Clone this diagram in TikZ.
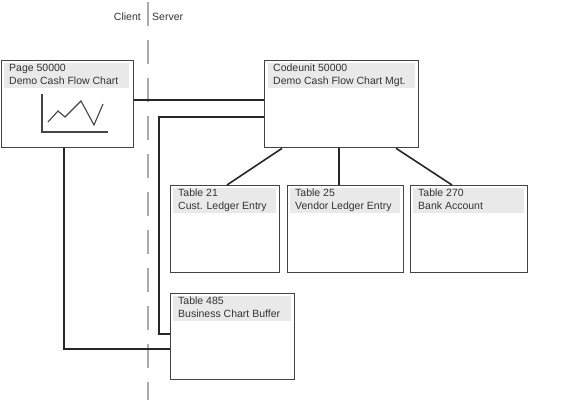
\documentclass[tikz,border=0pt]{standalone}
\usepackage{fontspec}
\setmainfont{Liberation Sans}
\usetikzlibrary{calc}
\definecolor{txt}{HTML}{333333}
\definecolor{hdr}{HTML}{E9E9E9}
\definecolor{bord}{HTML}{444444}
\definecolor{divc}{HTML}{AAAAAA}
\begin{document}
\begin{tikzpicture}[x=1pt,y=-1pt,
  objbox/.style={draw=bord,line width=1.3pt,fill=white,rectangle,anchor=north west,inner sep=0pt},
  hdrbox/.style={fill=hdr,rectangle,anchor=north west,inner sep=0pt,minimum height=25pt},
  lbl/.style={text=txt,font=\fontsize{10.5}{13}\selectfont,align=left,anchor=north west,inner sep=0pt},
  conn/.style={draw=black!85,line width=1.6pt},
  divline/.style={draw=divc,line width=1.4pt,dash pattern=on 24pt off 14pt}]
\useasboundingbox (0,0) rectangle (583,419);
% divider
\coordinate (dtop) at (148,2);
\coordinate (dbot) at (148,400);
\draw[divline] (dtop) -- (dbot);
\node[lbl,anchor=base east] (client) at (141,21) {Client};
\node[lbl,anchor=base west] (server) at (152,21) {Server};
% boxes
\node[objbox,minimum width=132pt,minimum height=87pt] (page) at (1,60) {};
\node[hdrbox,minimum width=125pt] (pageh) at (4,63) {};
\node[lbl] (paget) at (9,63.5) {Page 50000\\Demo Cash Flow Chart};
\node[objbox,minimum width=154pt,minimum height=87pt] (cu) at (264,60) {};
\node[hdrbox,minimum width=147pt] (cuh) at (268,63) {};
\node[lbl] (cut) at (273,63.5) {Codeunit 50000\\Demo Cash Flow Chart Mgt.};
\node[objbox,minimum width=109pt,minimum height=87pt] (t21) at (170,185) {};
\node[hdrbox,minimum width=103pt] (t21h) at (173,188) {};
\node[lbl] (t21t) at (178,188.5) {Table 21\\Cust. Ledger Entry};
\node[objbox,minimum width=116pt,minimum height=87pt] (t25) at (287,185) {};
\node[hdrbox,minimum width=110pt] (t25h) at (290,188) {};
\node[lbl] (t25t) at (295,188.5) {Table 25\\Vendor Ledger Entry};
\node[objbox,minimum width=117pt,minimum height=87pt] (t270) at (410,185) {};
\node[hdrbox,minimum width=111pt] (t270h) at (413,188) {};
\node[lbl] (t270t) at (418,188.5) {Table 270\\Bank Account};
\node[objbox,minimum width=124pt,minimum height=86pt] (t485) at (170,293) {};
\node[hdrbox,minimum width=118pt] (t485h) at (173,296) {};
\node[lbl] (t485t) at (178,296.5) {Table 485\\Business Chart Buffer};
% chart icon
\draw[draw=bord,line width=1.1pt] (42,94) -- (42,132) -- (108,132);
\draw[draw=bord,line width=1.1pt] (48,122) -- (58,111) -- (65,117) -- (81,101) -- (94,125) -- (103,104);
% connectors
\draw[conn] ($(page.north east)+(0,40)$) -- ($(cu.north west)+(0,40)$);
\draw[conn] ($(cu.north west)+(0,57)$) -| ($(t485.north west)+(-11,41)$) -- ($(t485.north west)+(0,41)$);
\draw[conn] ($(page.south west)+(63,0)$) |- ($(t485.north west)+(0,56)$);
\draw[conn] ($(cu.south west)+(18,0)$) -- ($(t21.north west)+(57,0)$);
\draw[conn] ($(cu.south west)+(75,0)$) -- ($(t25.north west)+(52,0)$);
\draw[conn] ($(cu.south west)+(132,0)$) -- ($(t270.north west)+(42,0)$);
\end{tikzpicture}
\end{document}
